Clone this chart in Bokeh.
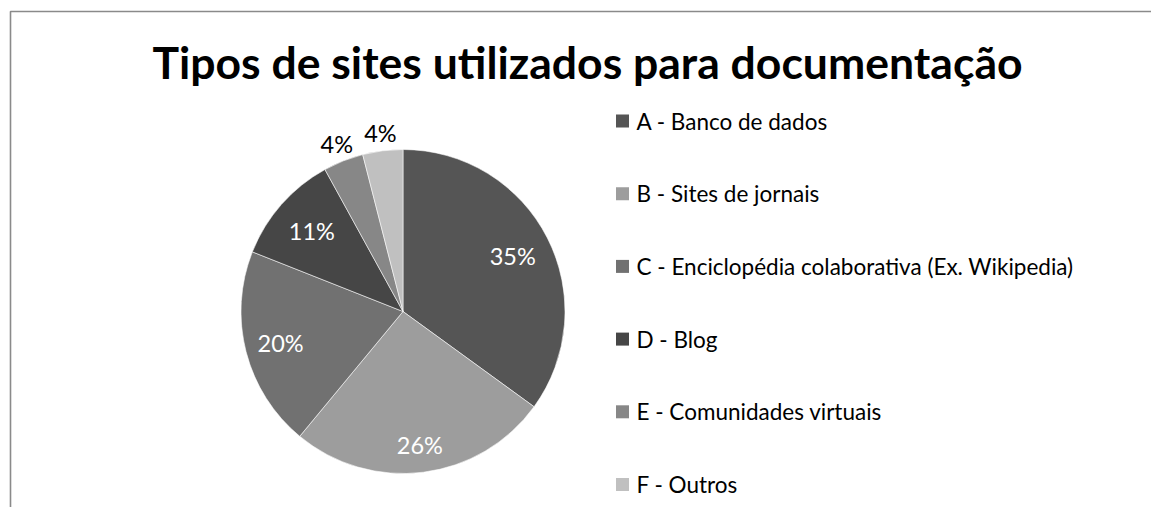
import math
from bokeh.plotting import figure
from bokeh.models import Range1d, ColumnDataSource
from bokeh.core.properties import value
from bokeh.embed import file_html
from bokeh.resources import INLINE

# ---- data ----
title = "Tipos de sites utilizados para documentação"
categories = ["A - Banco de dados", "B - Sites de jornais",
              "C - Enciclopédia colaborativa (Ex. Wikipedia)", "D - Blog",
              "E - Comunidades virtuais", "F - Outros"]
shares = [35, 26, 20, 11, 4, 4]
pct_labels = ["35%", "26%", "20%", "11%", "4%", "4%"]

# ---- style ----
colors = ["#555555", "#9d9d9d", "#717171", "#464646", "#878787", "#c0c0c0"]
label_colors = ["white", "white", "white", "white", "black", "black"]
label_radius = [0.76, 0.83, 0.78, 0.75, 1.11, 1.11]
FONT = "Lato"
W, H = 1151, 507
IMG_H = 523
CX, CY, R = 402.5, IMG_H - 311, 162

p = figure(width=W, height=H, x_range=Range1d(0, W), y_range=Range1d(IMG_H - H, IMG_H),
           output_backend="svg", toolbar_location=None,
           x_axis_location=None, y_axis_location=None, min_border=0)
p.outline_line_color = None
p.grid.visible = False
p.background_fill_color = "white"
p.border_fill_color = "white"

# border frame of the chart area (left and top edges visible)
p.line(x=[10, 10, 1200], y=[-50, IMG_H - 11, IMG_H - 11], line_color="#8a8a8a", line_width=1.6)

# pie
total = sum(shares)
starts, ends, mids = [], [], []
c = 0.0
for s in shares:
    a0 = math.pi / 2 - 2 * math.pi * c / total
    c += s
    a1 = math.pi / 2 - 2 * math.pi * c / total
    starts.append(a0); ends.append(a1); mids.append((a0 + a1) / 2)

src = ColumnDataSource(dict(start=starts, end=ends, color=colors))
p.wedge(x=CX, y=CY, radius=R, start_angle="start", end_angle="end", direction="clock",
        fill_color="color", line_color="white", line_width=0.8, line_alpha=0.7, source=src)

lx = [CX + R * f * math.cos(m) for f, m in zip(label_radius, mids)]
ly = [CY + R * f * math.sin(m) for f, m in zip(label_radius, mids)]
p.text(x=lx, y=ly, text=pct_labels, text_color=label_colors, text_align="center",
       text_baseline="middle", text_font=value(FONT), text_font_size="23.5px")

# title
p.text(x=[587], y=[IMG_H - 61], text=[title], text_align="center", text_baseline="middle",
       text_font=value(FONT), text_font_size="44.5px", text_font_style="bold", text_color="black")

# legend
LEG_Y0, LEG_DY = 120.5, 72.7
leg_y = [IMG_H - (LEG_Y0 + LEG_DY * i) for i in range(len(categories))]
p.rect(x=[622] * len(categories), y=leg_y, width=13, height=13, fill_color=colors, line_color=None)
p.text(x=[636] * len(categories), y=leg_y, text=categories, text_align="left",
       text_baseline="middle", text_font=value(FONT), text_font_size="22.5px", text_color="black")

open("out.html", "w").write(file_html(p, INLINE))
